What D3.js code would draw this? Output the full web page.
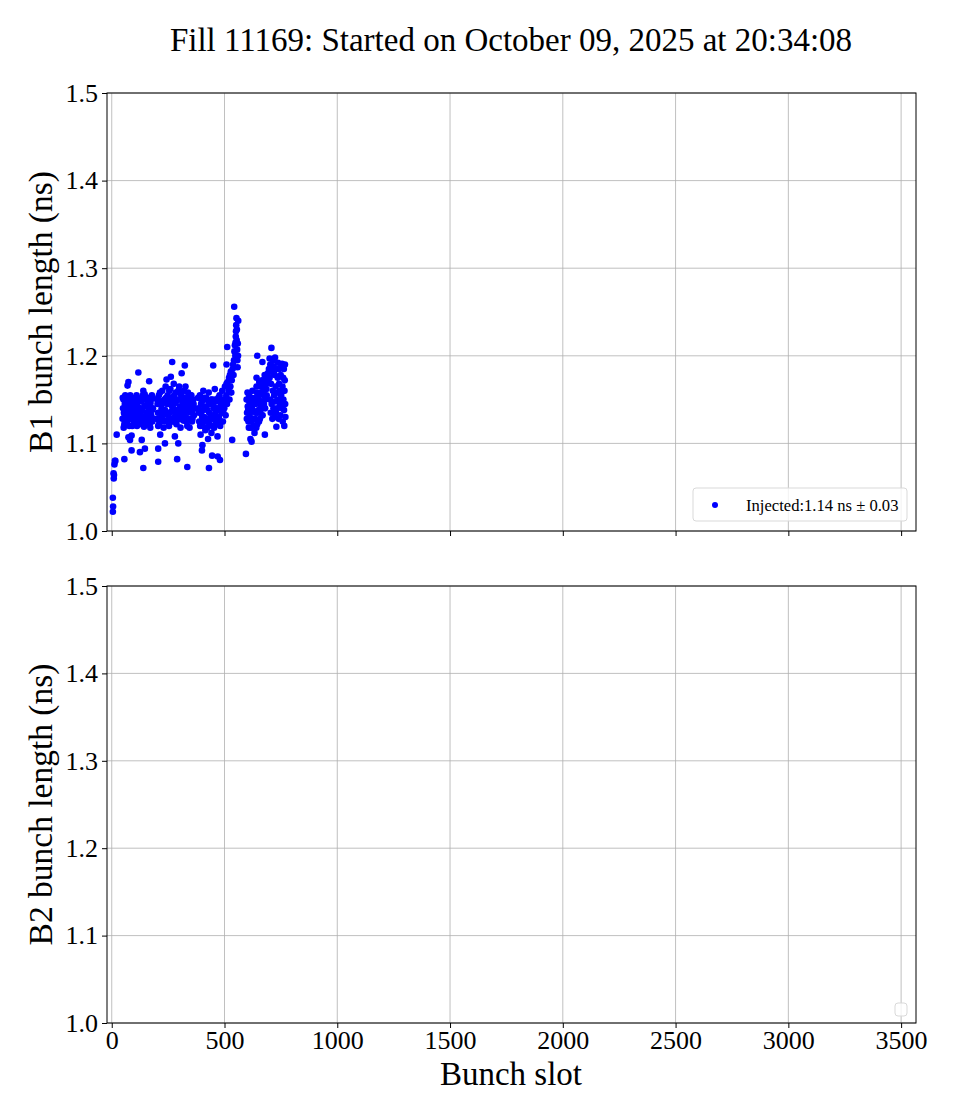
<!DOCTYPE html>
<html><head><meta charset="utf-8">
<script src="https://cdn.jsdelivr.net/npm/d3@7"></script>
<style>
body{margin:0;background:#fff}
</style>
</head><body>
<svg id="chart" width="960" height="1120"></svg>
<script>
const title = "Fill 11169: Started on October 09, 2025 at 20:34:08";
const xTicks = [0, 500, 1000, 1500, 2000, 2500, 3000, 3500];
const yTicks = [1.0, 1.1, 1.2, 1.3, 1.4, 1.5];
const panelLabels = ["B1 bunch length (ns)", "B2 bunch length (ns)"];
const xLabel = "Bunch slot";
const legendLabel = "Injected:1.14 ns \u00b1 0.03";

// B1 bunch lengths: [bunch slot, length ns]
const b1Points = [
 [5,1.022],[6,1.028],[5,1.038],[9,1.060],[8,1.066],[10,1.064],[12,1.076],[14,1.080],[16,1.080],[22,1.110],
 [74,1.170],[70,1.166],[118,1.181],[166,1.171],[140,1.160],
 [74,1.107],[88,1.109],[81,1.104],[133,1.104],[88,1.092],[125,1.090],[147,1.094],[56,1.082],[140,1.072],
 [48,1.128],[50,1.140],[52,1.150],[54,1.135],[56,1.122],[58,1.145],[60,1.155],[62,1.130],[64,1.138],[66,1.148],
 [68,1.125],[70,1.142],[72,1.133],[75,1.152],[78,1.120],[80,1.137],[84,1.146],[86,1.128],[90,1.140],[92,1.132],
 [95,1.150],[98,1.124],[100,1.138],[104,1.145],[106,1.130],[110,1.155],[112,1.120],[115,1.142],[118,1.135],[120,1.150],
 [122,1.127],[125,1.140],[128,1.132],[130,1.148],[132,1.122],[136,1.138],[138,1.155],[142,1.130],[145,1.143],[148,1.125],
 [150,1.150],[153,1.135],[156,1.142],[160,1.128],[162,1.152],[165,1.138],[168,1.122],[172,1.146],[175,1.132],[178,1.155],
 [180,1.125],[183,1.140],
 [49,1.152],[53,1.118],[57,1.133],[61,1.144],[65,1.121],[69,1.150],[73,1.128],[77,1.140],[82,1.155],[87,1.135],
 [91,1.120],[96,1.143],[101,1.127],[105,1.152],[109,1.136],[113,1.130],[117,1.148],[121,1.140],[126,1.123],[131,1.137],
 [134,1.152],[139,1.128],[143,1.119],[146,1.156],[151,1.128],[155,1.122],[158,1.148],[163,1.130],[167,1.143],[171,1.118],
 [174,1.150],[179,1.138],[182,1.152],[185,1.128],
 [268,1.193],[324,1.189],[310,1.180],[262,1.176],[243,1.173],[206,1.094],[236,1.100],[295,1.100],[206,1.079],[290,1.082],
 [335,1.073],[215,1.110],[280,1.108],
 [200,1.128],[203,1.145],[206,1.120],[209,1.155],[212,1.135],[215,1.148],[218,1.125],[221,1.140],[224,1.160],[227,1.132],
 [230,1.118],[233,1.150],[236,1.138],[239,1.165],[242,1.126],[245,1.145],[248,1.155],[251,1.132],[254,1.120],[257,1.148],
 [260,1.162],[263,1.136],[266,1.125],[269,1.152],[272,1.140],[275,1.168],[278,1.130],[281,1.146],[284,1.158],[287,1.122],
 [290,1.138],[293,1.150],[296,1.128],[299,1.165],[302,1.142],[305,1.118],[308,1.155],[311,1.134],[314,1.146],[317,1.126],
 [320,1.160],[323,1.140],[326,1.152],[329,1.130],[332,1.145],[335,1.120],[338,1.158],[341,1.136],[344,1.148],[347,1.128],
 [350,1.142],[353,1.155],[356,1.125],[359,1.138],[362,1.150],[365,1.132],
 [201,1.150],[205,1.135],[210,1.122],[214,1.158],[219,1.145],[223,1.130],[228,1.148],[232,1.137],[237,1.125],[241,1.152],
 [246,1.135],[250,1.145],[255,1.160],[259,1.128],[264,1.150],[268,1.142],[273,1.125],[277,1.155],[282,1.135],[286,1.148],
 [291,1.127],[295,1.160],[300,1.132],[304,1.150],[309,1.140],[313,1.128],[318,1.152],[322,1.135],[327,1.165],[331,1.125],
 [336,1.140],[340,1.150],[345,1.118],[349,1.155],[354,1.135],[358,1.128],[363,1.145],[367,1.140],
 [450,1.189],[431,1.072],[480,1.081],[470,1.085],[445,1.086],[400,1.092],[402,1.098],[509,1.190],[512,1.210],
 [385,1.140],[388,1.125],[391,1.155],[394,1.110],[397,1.135],[400,1.148],[403,1.120],[406,1.160],[409,1.130],[412,1.142],
 [415,1.115],[418,1.152],[421,1.128],[424,1.138],[427,1.105],[430,1.158],[433,1.122],[436,1.145],[439,1.132],[442,1.112],
 [445,1.150],[448,1.128],[451,1.140],[454,1.118],[457,1.162],[460,1.135],[463,1.125],[466,1.148],[469,1.108],[472,1.140],
 [475,1.130],[478,1.155],[481,1.120],[484,1.145],[487,1.135],[490,1.160],[493,1.125],[496,1.150],[499,1.140],[502,1.165],
 [505,1.132],[508,1.155],[511,1.145],[514,1.170],
 [383,1.152],[387,1.135],[392,1.120],[396,1.145],[401,1.130],[405,1.138],[410,1.152],[414,1.125],[419,1.140],[423,1.118],
 [428,1.148],[432,1.135],[437,1.128],[441,1.150],[446,1.120],[450,1.145],[455,1.132],[459,1.150],[464,1.140],[468,1.122],
 [473,1.152],[477,1.138],[482,1.148],[486,1.125],[491,1.142],[495,1.135],[500,1.150],[504,1.145],[509,1.168],[513,1.150],
 [518,1.160],[520,1.175],[522,1.150],[524,1.178],[526,1.165],[528,1.182],[530,1.158],[532,1.172],[534,1.104],[536,1.185],
 [538,1.190],[540,1.178],[542,1.195],[543,1.256],[544,1.205],[546,1.212],[548,1.200],[549,1.215],[550,1.222],[551,1.228],
 [552,1.235],[553,1.243],[554,1.218],[555,1.230],[556,1.207],[557,1.195],[558,1.187],[559,1.214],[560,1.200],[561,1.240],
 [595,1.088],[620,1.102],[615,1.105],[679,1.110],[645,1.200],[668,1.193],[642,1.175],
 [598,1.150],[600,1.135],[603,1.142],[606,1.125],[609,1.155],[612,1.130],[615,1.148],[618,1.118],[621,1.140],[624,1.160],
 [627,1.128],[630,1.145],[633,1.112],[636,1.152],[639,1.135],[642,1.165],[645,1.122],[648,1.148],[651,1.138],[654,1.170],
 [657,1.128],[660,1.158],[663,1.140],[666,1.172],[669,1.132],[672,1.160],[675,1.145],[678,1.178],[681,1.150],[684,1.168],
 [687,1.155],
 [599,1.128],[602,1.158],[605,1.138],[608,1.118],[611,1.145],[614,1.135],[617,1.152],[620,1.125],[623,1.145],[626,1.138],
 [629,1.120],[632,1.150],[635,1.128],[638,1.145],[641,1.118],[644,1.158],[647,1.135],[650,1.152],[653,1.125],[656,1.145],
 [659,1.135],[662,1.165],[665,1.148],[668,1.140],[671,1.170],[674,1.155],[677,1.165],[680,1.140],[683,1.175],[686,1.162],
 [689,1.172],[692,1.180],[695,1.170],[697,1.185],
 [700,1.197],[718,1.180],
 [700,1.175],[702,1.150],[703,1.190],[705,1.135],[706,1.168],[708,1.209],[709,1.145],[711,1.182],[712,1.128],[714,1.160],
 [715,1.195],[717,1.140],[718,1.188],[720,1.155],[721,1.130],[723,1.178],[724,1.198],[726,1.148],[727,1.165],[729,1.135],
 [730,1.119],[731,1.185],[733,1.158],[734,1.140],[736,1.175],[737,1.192],[739,1.150],[740,1.128],[742,1.168],[743,1.185],
 [745,1.145],[746,1.160],[748,1.132],[749,1.178],[751,1.155],[752,1.188],[754,1.140],[755,1.191],[757,1.165],[758,1.125],
 [760,1.175],[761,1.150],[763,1.185],[764,1.138],[766,1.160],[767,1.172],[769,1.145],[770,1.130],[768,1.190],[765,1.120]
];
// B2 has no data in this fill
const b2Points = [];

const FONT = "'Liberation Serif', 'Times New Roman', Times, serif";
const W = 960, H = 1120;
const left = 107, right = 916;
const panels = [
  {top: 93, bottom: 531, points: b1Points, label: panelLabels[0], showXLabels: false, legend: true},
  {top: 586, bottom: 1023, points: b2Points, label: panelLabels[1], showXLabels: true, legend: false}
];
const svg = d3.select("#chart");
svg.append("rect").attr("width", W).attr("height", H).attr("fill", "#fff");

const x = d3.scaleLinear().domain([-21, 3566]).range([left, right]);

svg.append("text").attr("x", 511).attr("y", 51).attr("text-anchor", "middle")
  .style("font-family", FONT).style("font-size", "33px").attr("fill", "#000").text(title);

panels.forEach(p => {
  const y = d3.scaleLinear().domain([1.0, 1.5]).range([p.bottom, p.top]);
  const g = svg.append("g");
  g.selectAll(".gx").data(xTicks).join("line")
    .attr("x1", d => x(d)).attr("x2", d => x(d)).attr("y1", p.top).attr("y2", p.bottom)
    .attr("stroke", "#b0b0b0").attr("stroke-width", 0.8);
  g.selectAll(".gy").data(yTicks).join("line")
    .attr("x1", left).attr("x2", right).attr("y1", d => y(d)).attr("y2", d => y(d))
    .attr("stroke", "#b0b0b0").attr("stroke-width", 0.8);
  g.append("g").selectAll("circle").data(p.points).join("circle")
    .attr("cx", d => x(d[0])).attr("cy", d => y(d[1])).attr("r", 3.3)
    .attr("fill", "#0000ff");
  g.append("rect").attr("x", left).attr("y", p.top).attr("width", right - left)
    .attr("height", p.bottom - p.top).attr("fill", "none").attr("stroke", "#000").attr("stroke-width", 1);
  const ax = g.append("g").attr("transform", `translate(0,${p.bottom})`)
    .call(d3.axisBottom(x).tickValues(xTicks).tickSize(5).tickPadding(3)
      .tickFormat(p.showXLabels ? d3.format("d") : () => ""));
  ax.select(".domain").remove();
  ax.selectAll("text").style("font-size", "26px").style("font-family", FONT).attr("fill", "#000");
  const ay = g.append("g").attr("transform", `translate(${left},0)`)
    .call(d3.axisLeft(y).tickValues(yTicks).tickSize(5).tickPadding(4).tickFormat(d3.format(".1f")));
  ay.select(".domain").remove();
  ay.selectAll("text").style("font-size", "26px").style("font-family", FONT).attr("fill", "#000");
  g.selectAll(".tick line").attr("stroke", "#000");
  g.append("text").attr("transform", `translate(52,${(p.top + p.bottom) / 2}) rotate(-90)`)
    .attr("text-anchor", "middle").style("font-size", "33.5px").style("font-family", FONT).text(p.label);
  if (p.legend) {
    g.append("rect").attr("x", 693).attr("y", 488).attr("width", 214).attr("height", 33)
      .attr("rx", 3).attr("fill", "#fff").attr("fill-opacity", 0.8)
      .attr("stroke", "#d9d9d9").attr("stroke-width", 1);
    g.append("circle").attr("cx", 715).attr("cy", 505).attr("r", 3).attr("fill", "#0000ff");
    g.append("text").attr("x", 746).attr("y", 510.5).style("font-size", "16.6px").style("font-family", FONT).text(legendLabel);
  } else {
    g.append("rect").attr("x", 895).attr("y", 1003).attr("width", 12).attr("height", 13)
      .attr("rx", 3).attr("fill", "#fff").attr("fill-opacity", 0.8)
      .attr("stroke", "#d9d9d9").attr("stroke-width", 1);
  }
});

svg.append("text").attr("x", 511).attr("y", 1085).attr("text-anchor", "middle")
  .style("font-size", "33px").style("font-family", FONT).text(xLabel);
</script>
</body></html>
